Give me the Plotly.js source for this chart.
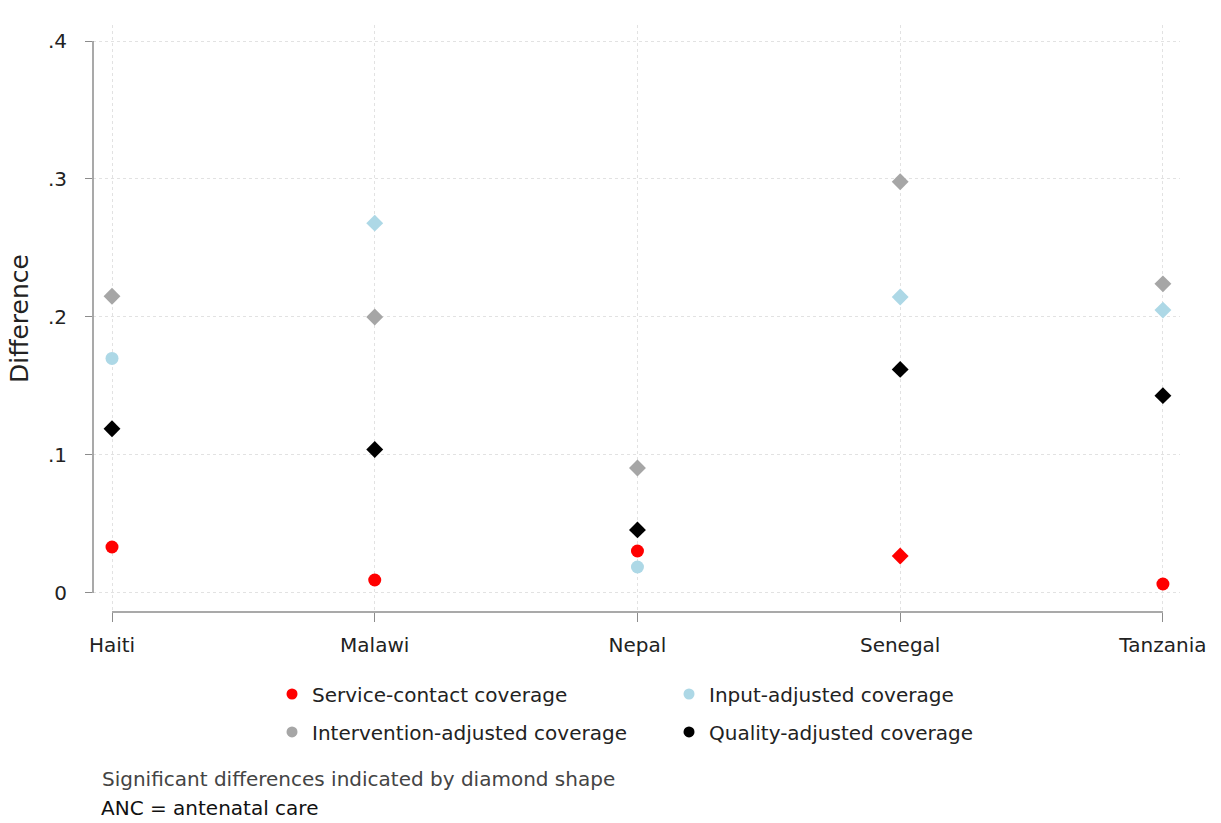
<!DOCTYPE html>
<html>
<head>
<meta charset="utf-8">
<script src="https://cdn.plot.ly/plotly-3.0.1.min.js"></script>
<style>
  html, body { margin: 0; padding: 0; background: #fff; }
  #chart { width: 1221px; height: 823px; }
</style>
</head>
<body>
<div id="chart"></div>
<script>
// Countries on the x axis
const countries = ['Haiti', 'Malawi', 'Nepal', 'Senegal', 'Tanzania'];

// Difference by coverage measure
const serviceContact = [0.0333, 0.0094, 0.0304, 0.0268, 0.0065];
const inputAdjusted = [0.170, 0.268, 0.0188, 0.2145, 0.205];
const interventionAdjusted = [0.215, 0.200, 0.0906, 0.298, 0.224];
const qualityAdjusted = [0.119, 0.104, 0.0457, 0.162, 0.143];

// Whether each difference is significant (drawn as a diamond)
const serviceContactSig = [false, false, false, true, false];
const inputAdjustedSig = [false, true, false, true, true];
const interventionAdjustedSig = [true, true, true, true, true];
const qualityAdjustedSig = [true, true, true, true, true];

// Axis ticks
const yTickVals = [0, 0.1, 0.2, 0.3, 0.4];
const yTickText = ['0', '.1', '.2', '.3', '.4'];

const FONT = 'DejaVu Sans, Liberation Sans, Arial, sans-serif';

const series = [
  { name: 'Service-contact coverage', y: serviceContact, sig: serviceContactSig, color: '#ff0000', legend: 'legend' },
  { name: 'Input-adjusted coverage', y: inputAdjusted, sig: inputAdjustedSig, color: '#add8e6', legend: 'legend' },
  { name: 'Intervention-adjusted coverage', y: interventionAdjusted, sig: interventionAdjustedSig, color: '#a6a6a6', legend: 'legend2' },
  { name: 'Quality-adjusted coverage', y: qualityAdjusted, sig: qualityAdjustedSig, color: '#000000', legend: 'legend2' }
];

const traces = [];
// Plotted points: circle when not significant, diamond when significant
series.forEach(s => {
  traces.push({
    type: 'scatter',
    mode: 'markers',
    x: countries,
    y: s.y,
    name: s.name,
    showlegend: false,
    cliponaxis: false,
    marker: {
      color: s.color,
      size: 13,
      symbol: s.sig.map(v => v ? 'diamond' : 'circle'),
      line: { width: 0 }
    },
    hoverinfo: 'x+y+name'
  });
});
// Legend keys (always circles)
series.forEach(s => {
  traces.push({
    type: 'scatter',
    mode: 'markers',
    x: [null],
    y: [null],
    name: s.name,
    legend: s.legend,
    showlegend: true,
    marker: { color: s.color, size: 11, symbol: 'circle' },
    hoverinfo: 'skip'
  });
});

const axisGray = '#8c8c8c';
const gridGray = '#e2e2e2';

const legendBase = {
  orientation: 'h',
  x: 0.1647, xanchor: 'left',
  yanchor: 'middle',
  entrywidth: 352, entrywidthmode: 'pixels',
  font: { family: FONT, size: 20, color: '#222' },
  bgcolor: 'rgba(0,0,0,0)',
  itemclick: false, itemdoubleclick: false
};

const layout = {
  width: 1221,
  height: 823,
  paper_bgcolor: '#ffffff',
  plot_bgcolor: '#ffffff',
  margin: { l: 93, r: 41, t: 25, b: 211 },
  font: { family: FONT, size: 20, color: '#222' },
  showlegend: true,
  xaxis: {
    type: 'category',
    range: [-0.0723, 4.065],
    showline: false,
    zeroline: false,
    showgrid: true,
    gridcolor: gridGray,
    griddash: 'dot',
    gridwidth: 1,
    ticks: 'outside',
    ticklen: 9,
    tickwidth: 1.3,
    tickcolor: axisGray,
    ticklabelstandoff: 6,
    tickfont: { family: FONT, size: 20, color: '#222' },
    fixedrange: true
  },
  yaxis: {
    range: [-0.0138, 0.4116],
    tickvals: yTickVals,
    ticktext: yTickText,
    showline: false,
    zeroline: false,
    showgrid: true,
    gridcolor: gridGray,
    griddash: 'dot',
    gridwidth: 1,
    ticks: 'outside',
    ticklen: 7,
    tickwidth: 1.3,
    tickcolor: axisGray,
    ticklabelstandoff: 14,
    tickfont: { family: FONT, size: 20, color: '#222' },
    title: { text: 'Difference', font: { family: FONT, size: 25, color: '#222' }, standoff: 12 },
    fixedrange: true
  },
  shapes: [
    // y axis line from 0 to .4
    { type: 'line', xref: 'paper', yref: 'y', x0: 0, x1: 0, y0: 0, y1: 0.4,
      line: { color: axisGray, width: 1.5 } },
    // x axis line spanning the first to the last country
    { type: 'line', xref: 'x', yref: 'paper', x0: countries[0], x1: countries[countries.length - 1], y0: 0, y1: 0,
      line: { color: axisGray, width: 1.5 } }
  ],
  legend: Object.assign({}, legendBase, { y: -0.1397 }),
  legend2: Object.assign({}, legendBase, { y: -0.2044 }),
  annotations: [
    { xref: 'paper', yref: 'paper', x: 0.0064, y: -0.2845, xanchor: 'left', yanchor: 'middle',
      text: 'Significant differences indicated by diamond shape', showarrow: false,
      font: { family: FONT, size: 20, color: '#444' } },
    { xref: 'paper', yref: 'paper', x: 0.0064, y: -0.3561, xanchor: 'left', yanchor: 'bottom',
      borderpad: 0,
      text: 'ANC = antenatal care', showarrow: false,
      font: { family: FONT, size: 20, color: '#111' } }
  ]
};

Plotly.newPlot('chart', traces, layout, { displayModeBar: false, responsive: false });
</script>
</body>
</html>
